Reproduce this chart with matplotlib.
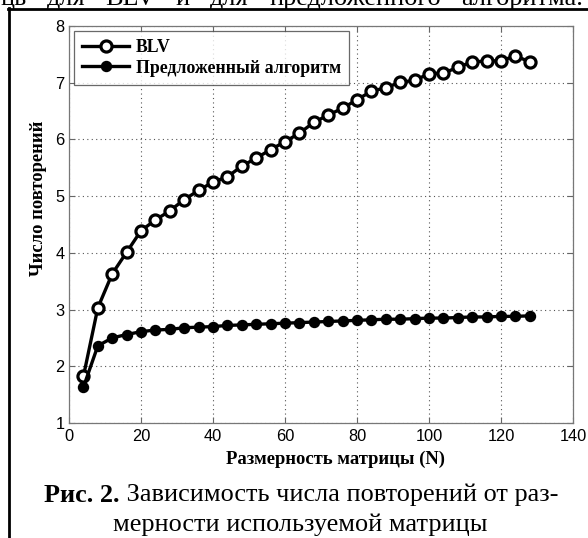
import matplotlib
matplotlib.use("Agg")
import matplotlib.pyplot as plt
from matplotlib.lines import Line2D

N = [4, 8, 12, 16, 20, 24, 28, 32, 36, 40, 44, 48, 52, 56, 60, 64,
     68, 72, 76, 80, 84, 88, 92, 96, 100, 104, 108, 112, 116, 120, 124, 128]
blv = [1.82, 3.03, 3.63, 4.01, 4.39, 4.58, 4.74, 4.94, 5.10, 5.25, 5.34, 5.53,
       5.67, 5.82, 5.96, 6.11, 6.30, 6.43, 6.55, 6.70, 6.85, 6.91, 7.01, 7.04,
       7.16, 7.17, 7.27, 7.37, 7.38, 7.39, 7.47, 7.37]
proposed = [1.63, 2.36, 2.50, 2.56, 2.61, 2.64, 2.65, 2.68, 2.69, 2.70, 2.72, 2.73,
            2.74, 2.75, 2.76, 2.77, 2.78, 2.79, 2.80, 2.81, 2.82, 2.83, 2.83, 2.84,
            2.85, 2.85, 2.86, 2.87, 2.87, 2.88, 2.88, 2.89]
xticks = [0, 20, 40, 60, 80, 100, 120, 140]
yticks = [1, 2, 3, 4, 5, 6, 7, 8]
labels = ["BLV", "Предложенный алгоритм"]
xlabel = "Размерность матрицы (N)"
ylabel = "Число повторений"
caption_bold = "Рис. 2."
caption1 = " Зависимость числа повторений от раз-"
caption2 = "мерности используемой матрицы"
top_text = "ць для BLV и для предложенного алгоритма."

SERIF = "Liberation Serif"
W, H = 588, 538
fig = plt.figure(figsize=(W / 100, H / 100), dpi=100)
fig.patch.set_facecolor("white")

ax = fig.add_axes([69 / W, 1 - 423 / H, (573 - 69) / W, (423 - 26) / H])
ax.plot(N, blv, color="black", lw=2.4, marker="o", ms=8, mfc="white",
        mec="black", mew=2.3, label=labels[0])
ax.plot(N, proposed, color="black", lw=2.4, marker="o", ms=7.2, mfc="black",
        mec="black", mew=1, label=labels[1])
ax.set_xlim(0, 140)
ax.set_ylim(1, 8)
ax.set_xticks(xticks)
ax.set_yticks(yticks)
ax.tick_params(direction="in", top=True, right=True, length=4, width=0.8,
               color="#666666", labelsize=11.8)
ax.tick_params(axis="x", pad=4.5)
ax.tick_params(axis="y", pad=3)
for lab in ax.get_xticklabels() + ax.get_yticklabels():
    lab.set_fontfamily("Liberation Sans")
for s in ax.spines.values():
    s.set_color("#777777")
    s.set_linewidth(0.9)
ax.grid(True, linestyle=(0, (1, 3)), color="#555555", linewidth=0.8)

ax.set_xlabel(xlabel, fontfamily=SERIF, fontweight="bold", fontsize=13.4)
ax.xaxis.label.set_va("center")
ax.xaxis.set_label_coords((335 - 69) / 504, (423 - 459) / 397)
ax.set_ylabel(ylabel, fontfamily=SERIF, fontweight="bold", fontsize=13.4)
ax.yaxis.label.set_va("center")
ax.yaxis.set_label_coords((39 - 69) / 504, (423 - 198) / 397)

leg = ax.legend(loc="upper left", prop={"family": SERIF, "weight": "bold",
                                        "size": 12.8},
                frameon=True, fancybox=False, edgecolor="#444444",
                borderpad=0.45, handlelength=2.65, labelspacing=0.2,
                handletextpad=0.4, borderaxespad=0.28)
leg.get_frame().set_linewidth(0.9)

fig.canvas.draw()
renderer = fig.canvas.get_renderer()

# caption line 1: bold "Рис. 2." followed by regular text, centred as a whole
CAP = 18.9
tb = fig.text(0, 0, caption_bold, fontfamily=SERIF, fontweight="bold", fontsize=CAP)
tr = fig.text(0, 0, caption1, fontfamily=SERIF, fontsize=CAP)
wb = tb.get_window_extent(renderer).width
wr = tr.get_window_extent(renderer).width
x0 = 301 - (wb + wr) / 2
tb.set_position((x0 / W, 1 - 495 / H)); tb.set_va("center")
tr.set_position(((x0 + wb) / W, 1 - 495 / H)); tr.set_va("center")
fig.text(300 / W, 1 - 525 / H, caption2, ha="center", va="center",
         fontfamily=SERIF, fontsize=CAP)

# fragment of the page text above the figure (justified line, mostly cut off)
words = top_text.split()
wt = []
for w_ in words:
    t = fig.text(0, 1 - 5 / H, w_, fontfamily=SERIF, fontsize=CAP, va="baseline")
    wt.append((t, t.get_window_extent(renderer).width))
total = sum(w for _, w in wt)
gap = (583 - 0 - total) / (len(wt) - 1)
xpos = 0
for t, w in wt:
    t.set_x(xpos / W)
    xpos += w + gap

# box border of the page frame
fig.add_artist(Line2D([8.7 / W, 8.7 / W], [0, 1 - 7.5 / H], color="black",
                      lw=2.0, transform=fig.transFigure))
fig.add_artist(Line2D([7.7 / W, 1], [1 - 8.7 / H, 1 - 8.7 / H], color="black",
                      lw=2.0, transform=fig.transFigure))

fig.savefig("out.png", dpi=100)
